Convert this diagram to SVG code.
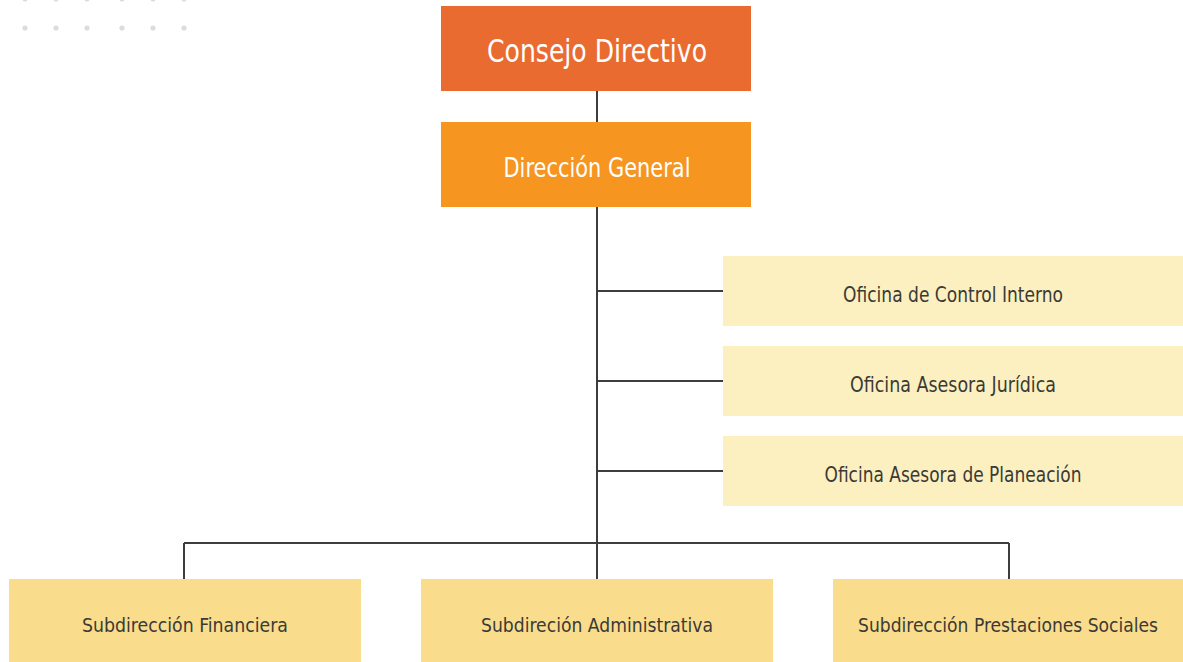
<svg xmlns="http://www.w3.org/2000/svg" width="1183" height="662" viewBox="0 0 1183 662">
<style>
.t{font-family:"DejaVu Sans Condensed","DejaVu Sans","Liberation Sans",sans-serif;text-anchor:middle}
.w{fill:#ffffff}
.d{fill:#3b3a36}
.ln{stroke:#3d3d3d;stroke-width:2;fill:none}
.dot{fill:#dcdcdc}
</style>
<rect width="1183" height="662" fill="#ffffff"/>
<g id="dots">
<circle class="dot" cx="25" cy="28" r="2.6"/><circle class="dot" cx="56" cy="28" r="2.6"/><circle class="dot" cx="87" cy="28" r="2.6"/><circle class="dot" cx="122" cy="28" r="2.6"/><circle class="dot" cx="153" cy="28" r="2.6"/><circle class="dot" cx="184" cy="28" r="2.6"/>
<circle class="dot" cx="25" cy="-1" r="2.6"/><circle class="dot" cx="56" cy="-1" r="2.6"/><circle class="dot" cx="87" cy="-1" r="2.6"/><circle class="dot" cx="122" cy="-1" r="2.6"/><circle class="dot" cx="153" cy="-1" r="2.6"/><circle class="dot" cx="184" cy="-1" r="2.6"/>
</g>
<g id="connectors">
<path class="ln" d="M597 91V122M597 207V579M597 291H723M597 381H723M597 471H723M184 543H1009M184 543V579M1009 543V579"/>
</g>
<g id="consejo"><rect x="441" y="6" width="310" height="85" fill="#ea6b30"/><text class="t w" x="597" y="62" font-size="32" textLength="220" lengthAdjust="spacingAndGlyphs">Consejo Directivo</text></g>
<g id="direccion"><rect x="441" y="122" width="310" height="85" fill="#f6951f"/><text class="t w" x="597" y="177" font-size="26.5" textLength="187" lengthAdjust="spacingAndGlyphs">Dirección General</text></g>
<g id="control"><rect x="723" y="256" width="460" height="70" fill="#fcf0c0"/><text class="t d" x="953" y="302" font-size="20.5" textLength="220" lengthAdjust="spacingAndGlyphs">Oficina de Control Interno</text></g>
<g id="juridica"><rect x="723" y="346" width="460" height="70" fill="#fcf0c0"/><text class="t d" x="953" y="392" font-size="20.5" textLength="206" lengthAdjust="spacingAndGlyphs">Oficina Asesora Jurídica</text></g>
<g id="planeacion"><rect x="723" y="436" width="460" height="70" fill="#fcf0c0"/><text class="t d" x="953" y="482" font-size="20.5" textLength="257" lengthAdjust="spacingAndGlyphs">Oficina Asesora de Planeación</text></g>
<g id="financiera"><rect x="9" y="579" width="352" height="83" fill="#f9dd8d"/><text class="t d" x="185" y="632" font-size="20" textLength="206" lengthAdjust="spacingAndGlyphs">Subdirección Financiera</text></g>
<g id="administrativa"><rect x="421" y="579" width="352" height="83" fill="#f9dd8d"/><text class="t d" x="597" y="632" font-size="20" textLength="232" lengthAdjust="spacingAndGlyphs">Subdireción Administrativa</text></g>
<g id="prestaciones"><rect x="833" y="579" width="350" height="83" fill="#f9dd8d"/><text class="t d" x="1008" y="632" font-size="20" textLength="300" lengthAdjust="spacingAndGlyphs">Subdirección Prestaciones Sociales</text></g>
</svg>
